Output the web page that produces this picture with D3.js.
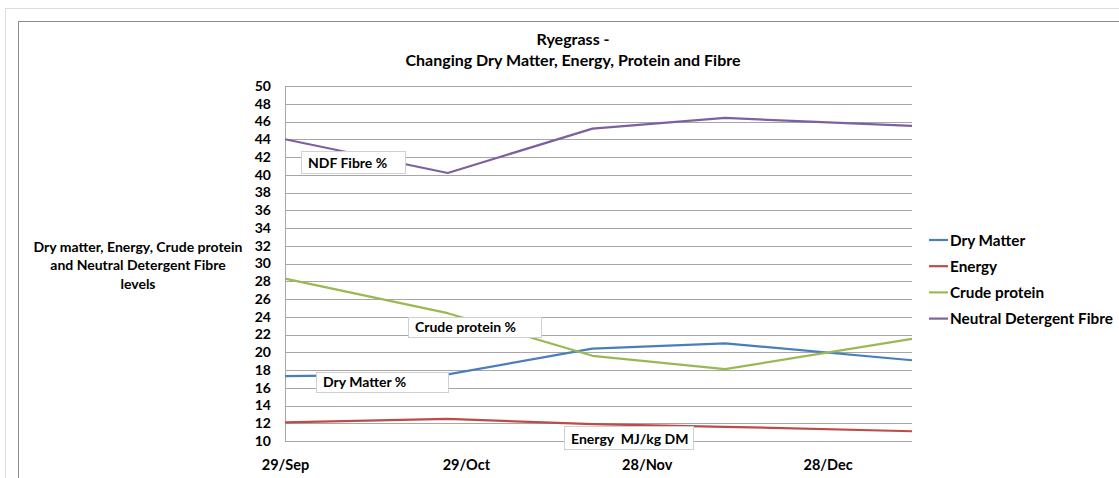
<!DOCTYPE html>
<html>
<head>
<meta charset="utf-8">
<script src="https://cdn.jsdelivr.net/npm/d3@7"></script>
<style>
  html, body { margin: 0; padding: 0; background: #ffffff; }
  svg { display: block; }
  text { font-family: Lato, "Open Sans", sans-serif; font-weight: bold; fill: #000; white-space: pre; }
</style>
</head>
<body>
<svg id="chart" width="1119" height="478"></svg>
<script>
// ---------- data ----------
const sampleDates = ["2011-09-29", "2011-10-26", "2011-11-19", "2011-12-11", "2012-01-11"];
const dryMatter    = [17.3, 17.5, 20.4, 21.0, 19.1];
const energy       = [12.1, 12.5, 11.9, 11.6, 11.1];
const crudeProtein = [28.3, 24.4, 19.6, 18.1, 21.5];
const ndfFibre     = [44.0, 40.2, 45.2, 46.4, 45.5];
const seriesNames  = ["Dry Matter", "Energy", "Crude protein", "Neutral Detergent Fibre"];
const xTickDates   = ["2011-09-29", "2011-10-29", "2011-11-28", "2011-12-28"];
const xTickLabels  = ["29/Sep", "29/Oct", "28/Nov", "28/Dec"];
const yTicks       = [10,12,14,16,18,20,22,24,26,28,30,32,34,36,38,40,42,44,46,48,50];
const annotations  = ["NDF Fibre %", "Crude protein %", "Dry Matter %", "Energy  MJ/kg DM"];
const titleLines   = ["Ryegrass -", "Changing Dry Matter, Energy, Protein and Fibre"];
const yTitleLines  = ["Dry matter, Energy, Crude protein", "and Neutral Detergent Fibre", "levels"];

// ---------- layout / style ----------
const colors = ["#4A7EBB", "#BE4B48", "#98B954", "#7D60A0"];
const plot = { left: 285, right: 912, top: 86, bottom: 441 };
const parse = d3.utcParse("%Y-%m-%d");

const svg = d3.select("#chart");

// outer frames
svg.append("line").attr("x1", 5).attr("x2", 1119).attr("y1", 8.5).attr("y2", 8.5)
  .attr("stroke", "#dcdce8").attr("stroke-width", 1);
svg.append("line").attr("x1", 5.5).attr("x2", 5.5).attr("y1", 8).attr("y2", 478)
  .attr("stroke", "#dcdce8").attr("stroke-width", 1);
svg.append("line").attr("x1", 18).attr("x2", 1119).attr("y1", 21.5).attr("y2", 21.5)
  .attr("stroke", "#8c8c8c").attr("stroke-width", 1);
svg.append("line").attr("x1", 18.5).attr("x2", 18.5).attr("y1", 21).attr("y2", 478)
  .attr("stroke", "#8c8c8c").attr("stroke-width", 1);

// scales
const x = d3.scaleUtc()
  .domain([parse(sampleDates[0]), parse(sampleDates[sampleDates.length - 1])])
  .range([plot.left, plot.right]);
const y = d3.scaleLinear().domain([10, 50]).range([plot.bottom, plot.top]);

// gridlines
const grid = svg.append("g").attr("transform", `translate(${plot.left},0)`)
  .call(d3.axisLeft(y).tickValues(yTicks).tickSize(-(plot.right - plot.left)).tickFormat(""));
grid.select(".domain").remove();
grid.selectAll(".tick line").attr("stroke", "#a6a6a6").attr("stroke-width", 1)
  .attr("shape-rendering", "crispEdges");

// y axis
const yAxis = svg.append("g").attr("transform", `translate(${plot.left},0)`)
  .call(d3.axisLeft(y).tickValues(yTicks).tickSize(0).tickPadding(14));
yAxis.select(".domain").attr("stroke", "#a6a6a6").attr("shape-rendering", "crispEdges");
yAxis.selectAll("text").style("font-family", "Lato, sans-serif").style("font-weight", "bold")
  .style("font-size", "14px").attr("fill", "#000");

// x axis labels
const xAxis = svg.append("g").attr("transform", `translate(0,${plot.bottom})`)
  .call(d3.axisBottom(x).tickValues(xTickDates.map(parse)).tickSize(0).tickPadding(19)
    .tickFormat((d, i) => xTickLabels[i]));
xAxis.select(".domain").remove();
xAxis.selectAll("text").style("font-family", "Lato, sans-serif").style("font-weight", "bold")
  .style("font-size", "14.5px").attr("fill", "#000");

// lines
const allSeries = [dryMatter, energy, crudeProtein, ndfFibre];
const line = d3.line().x((d, i) => x(parse(sampleDates[i]))).y(d => y(d));
allSeries.forEach((vals, k) => {
  svg.append("path").datum(vals).attr("d", line)
    .attr("fill", "none").attr("stroke", colors[k]).attr("stroke-width", 2.2)
    .attr("stroke-linejoin", "round");
});

// annotation boxes
const annBoxes = [
  { x: 301, y: 151, w: 104, h: 22 },
  { x: 408, y: 317, w: 133, h: 20 },
  { x: 316, y: 372, w: 132, h: 20 },
  { x: 564, y: 426, w: 129, h: 23 }
];
annotations.forEach((t, i) => {
  const b = annBoxes[i];
  svg.append("rect").attr("x", b.x + 0.5).attr("y", b.y + 0.5).attr("width", b.w).attr("height", b.h)
    .attr("fill", "#fff").attr("stroke", "#d0d0d0").attr("stroke-width", 1);
  svg.append("text").attr("x", b.x + 7).attr("y", b.y + b.h - 5.5)
    .style("font-size", "14px").text(t);
});

// title
svg.append("text").attr("x", 573).attr("y", 45).attr("text-anchor", "middle")
  .style("font-size", "16px").text(titleLines[0]);
svg.append("text").attr("x", 573).attr("y", 66).attr("text-anchor", "middle")
  .style("font-size", "16px").text(titleLines[1]);

// y axis title
yTitleLines.forEach((t, i) => {
  svg.append("text").attr("x", 138).attr("y", 252 + i * 18.3).attr("text-anchor", "middle")
    .style("font-size", "14px").text(t);
});

// legend
const legend = svg.append("g");
seriesNames.forEach((name, i) => {
  const ly = 240 + i * 26.2;
  legend.append("line").attr("x1", 929).attr("x2", 948).attr("y1", ly).attr("y2", ly)
    .attr("stroke", colors[i]).attr("stroke-width", 2.2);
  legend.append("text").attr("x", 950).attr("y", ly + 5.5).style("font-size", "15.3px").text(name);
});
</script>
</body>
</html>
